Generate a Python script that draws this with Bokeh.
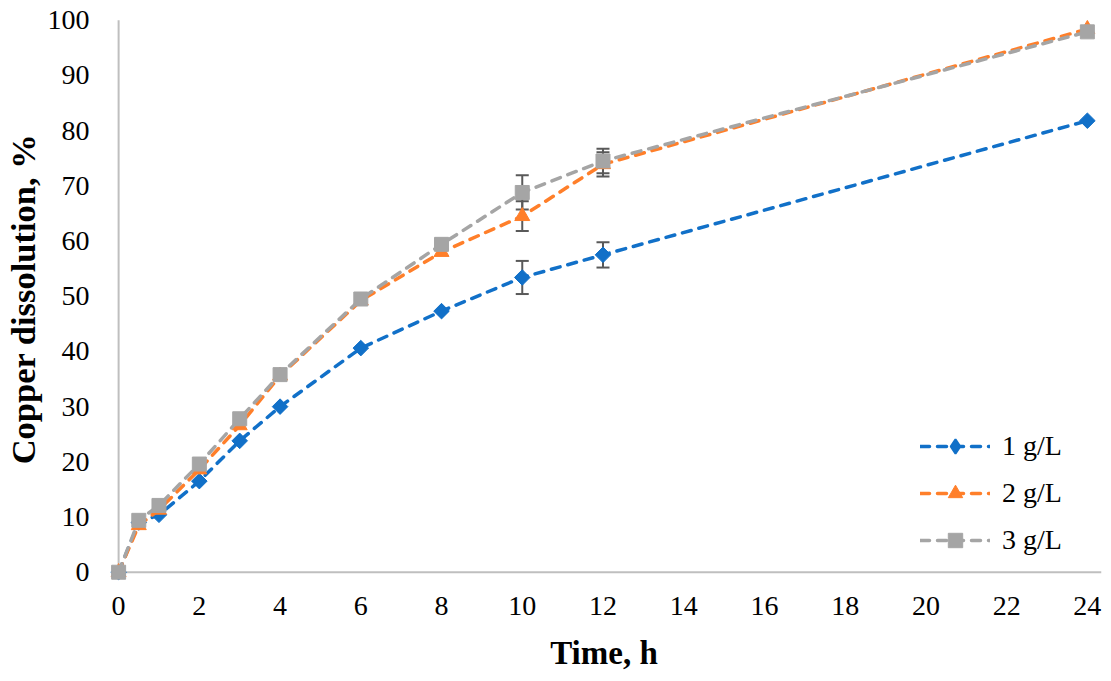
import math
from bokeh.plotting import figure
from bokeh.models import (ColumnDataSource, Whisker, TeeHead, FixedTicker, Legend,
                          LegendItem, Range1d)
from bokeh.embed import file_html
from bokeh.resources import INLINE

# ---- data ----
time_h = [0, 0.5, 1, 2, 3, 4, 6, 8, 10, 12, 24]
cu_1gL = [0, 9.0, 10.4, 16.5, 23.8, 30.0, 40.6, 47.3, 53.4, 57.5, 81.8]
cu_2gL = [0, 8.5, 11.3, 18.6, 26.6, 35.6, 49.2, 58.0, 64.5, 73.9, 98.4]
cu_3gL = [0, 9.4, 12.1, 19.6, 27.8, 35.8, 49.5, 59.4, 68.8, 74.5, 97.9]
err_1gL = [0, 0, 0, 0, 0, 0, 0, 0, 3.0, 2.3, 0]
err_2gL = [0, 0, 0, 0, 0, 0, 0, 0, 2.7, 2.2, 0]
err_3gL = [0, 0, 0, 0, 0, 0, 0, 0, 3.1, 2.2, 0]
series_labels = ["1 g/L", "2 g/L", "3 g/L"]
x_ticks = list(range(0, 25, 2))
y_ticks = list(range(0, 101, 10))

colors = ["#1170C8", "#FF7F2A", "#A5A5A5"]
FONT = "Liberation Serif"

p = figure(frame_width=995, frame_height=563,
           min_border_left=90, min_border_right=2, min_border_top=17, min_border_bottom=92,
           x_range=Range1d(-0.3, 24.35), y_range=Range1d(-1.5, 100.5),
           output_backend="svg", toolbar_location=None)
p.outline_line_color = None
p.xgrid.visible = False
p.ygrid.visible = False

for ax in (p.xaxis, p.yaxis):
    ax.axis_line_alpha = 0
    ax.major_tick_line_alpha = 0
    ax.minor_tick_line_alpha = 0
    ax.major_label_text_font = FONT
    ax.major_label_text_font_size = "28px"
    ax.major_label_text_color = "black"
    ax.axis_label_text_font = FONT
    ax.axis_label_text_font_style = "bold"
    ax.axis_label_text_color = "black"

p.xaxis.axis_label_text_font_size = "33px"
p.yaxis.axis_label_text_font_size = "34.5px"
p.xaxis.ticker = FixedTicker(ticks=x_ticks)
p.yaxis.ticker = FixedTicker(ticks=y_ticks)
p.xaxis.major_label_standoff = 10
p.yaxis.major_label_standoff = 11
p.xaxis.axis_label = "Time, h"
p.yaxis.axis_label = "Copper dissolution, %"
p.xaxis.axis_label_standoff = 17
p.yaxis.axis_label_standoff = 3

# axis lines through the origin
p.segment(x0=[0, 0], y0=[0, 0], x1=[0, 24.35], y1=[100, 0],
          line_color="#BFBFBF", line_width=2)

all_y = [cu_1gL, cu_2gL, cu_3gL]
all_err = [err_1gL, err_2gL, err_3gL]
markers = [("square", 11, math.pi / 4), ("triangle", 15, 0.0), ("square", 14, 0.0)]
legend_markers = ["diamond", "triangle", "square"]

items = []
for yv, col, lab, (mk, sz, ang), lmk in zip(all_y, colors, series_labels, markers, legend_markers):
    src = ColumnDataSource(dict(x=time_h, y=yv))
    ln = p.line("x", "y", source=src, line_color=col, line_width=3.5,
                line_dash="9 8", line_cap="round")
    sc = p.scatter("x", "y", source=src, marker=mk, size=sz, angle=ang,
                   fill_color=col, line_color=col, line_width=1)
    if lmk != mk or ang != 0.0:
        # legend-only marker (legend glyphs are never rotated); no visible point in the plot
        lg = p.scatter(x=[float("nan")], y=[float("nan")], marker=lmk, size=sz,
                       fill_color=col, line_color=col, line_width=2)
        items.append(LegendItem(label=lab, renderers=[ln, lg]))
    else:
        items.append(LegendItem(label=lab, renderers=[ln, sc]))

for yv, ev in zip(all_y, all_err):
    xs = [t for t, e in zip(time_h, ev) if e > 0]
    up = [y + e for y, e in zip(yv, ev) if e > 0]
    lo = [y - e for y, e in zip(yv, ev) if e > 0]
    esrc = ColumnDataSource(dict(x=xs, upper=up, lower=lo))
    w = Whisker(source=esrc, base="x", upper="upper", lower="lower",
                line_color="#595959", line_width=2,
                upper_head=TeeHead(size=13, line_color="#595959", line_width=2),
                lower_head=TeeHead(size=13, line_color="#595959", line_width=2))
    p.add_layout(w)

legend = Legend(items=items, location=(814, 22), glyph_width=70, glyph_height=36,
                spacing=11, padding=0, margin=0, label_standoff=12,
                label_text_font=FONT, label_text_font_size="28px",
                label_text_color="black",
                border_line_alpha=0, background_fill_alpha=0)
p.add_layout(legend)

open("out.html", "w").write(file_html(p, INLINE))
